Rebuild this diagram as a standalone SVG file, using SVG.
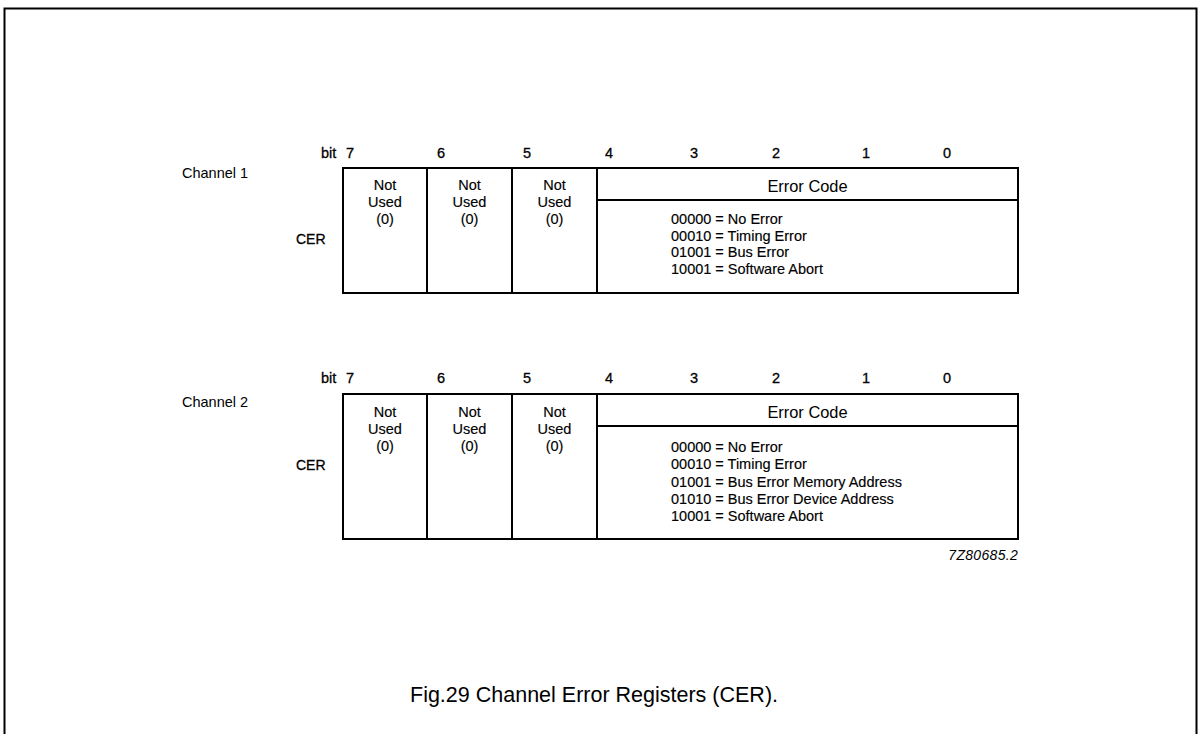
<svg xmlns="http://www.w3.org/2000/svg" width="1198" height="734" viewBox="0 0 1198 734">
<style>
text{font-family:"Liberation Sans",Arial,sans-serif;font-size:14.5px;fill:#000}
.c{text-anchor:middle}
.h{stroke:#000;stroke-width:0.3px}
.m{stroke:#000;stroke-width:0.15px}
.nu{font-size:15.5px}
.ec{font-size:16.4px}
.li{font-size:16.4px}
.b{font-size:14px}
.box{fill:none;stroke:#000;stroke-width:2}
.ln{stroke:#000;stroke-width:2}
.cap{font-size:21.5px}
.id{font-style:italic;text-anchor:end;font-size:14px;letter-spacing:0.3px}
</style>
<rect width="1198" height="734" fill="#fff"/>
<path d="M4.5,734 V8.5 H1196.5 V734" fill="none" stroke="#000" stroke-width="2"/>

<g id="channel1">
  <g class="b h">
    <text x="321" y="158">bit</text>
    <text x="346" y="158">7</text>
    <text x="437" y="158">6</text>
    <text x="523" y="158">5</text>
    <text x="605" y="158">4</text>
    <text x="690" y="158">3</text>
    <text x="772" y="158">2</text>
    <text x="862" y="158">1</text>
    <text x="943" y="158">0</text>
  </g>
  <text x="182" y="178">Channel 1</text>
  <text class="b h" x="296" y="244">CER</text>
  <rect class="box" x="343" y="168" width="675" height="125"/>
  <line class="ln" x1="427" y1="168" x2="427" y2="293"/>
  <line class="ln" x1="512" y1="168" x2="512" y2="293"/>
  <line class="ln" x1="597" y1="168" x2="597" y2="293"/>
  <line class="ln" x1="597" y1="200" x2="1018" y2="200"/>
  <g class="c nu m">
    <text x="385" y="190">Not</text><text x="385" y="207">Used</text><text x="385" y="224">(0)</text>
    <text x="469.5" y="190">Not</text><text x="469.5" y="207">Used</text><text x="469.5" y="224">(0)</text>
    <text x="554.5" y="190">Not</text><text x="554.5" y="207">Used</text><text x="554.5" y="224">(0)</text>
  </g>
  <text class="c ec" x="807.5" y="192">Error Code</text>
  <g class="li m">
    <text x="671" y="224">00000 = No Error</text>
    <text x="671" y="240.5">00010 = Timing Error</text>
    <text x="671" y="257">01001 = Bus Error</text>
    <text x="671" y="273.5">10001 = Software Abort</text>
  </g>
</g>

<g id="channel2">
  <g class="b h">
    <text x="321" y="383">bit</text>
    <text x="346" y="383">7</text>
    <text x="437" y="383">6</text>
    <text x="523" y="383">5</text>
    <text x="605" y="383">4</text>
    <text x="690" y="383">3</text>
    <text x="772" y="383">2</text>
    <text x="862" y="383">1</text>
    <text x="943" y="383">0</text>
  </g>
  <text x="182" y="407">Channel 2</text>
  <text class="b h" x="296" y="470">CER</text>
  <rect class="box" x="343" y="394" width="675" height="145"/>
  <line class="ln" x1="427" y1="394" x2="427" y2="539"/>
  <line class="ln" x1="512" y1="394" x2="512" y2="539"/>
  <line class="ln" x1="597" y1="394" x2="597" y2="539"/>
  <line class="ln" x1="597" y1="426" x2="1018" y2="426"/>
  <g class="c nu m">
    <text x="385" y="417">Not</text><text x="385" y="434">Used</text><text x="385" y="451">(0)</text>
    <text x="469.5" y="417">Not</text><text x="469.5" y="434">Used</text><text x="469.5" y="451">(0)</text>
    <text x="554.5" y="417">Not</text><text x="554.5" y="434">Used</text><text x="554.5" y="451">(0)</text>
  </g>
  <text class="c ec" x="807.5" y="418">Error Code</text>
  <g class="li m">
    <text x="671" y="452">00000 = No Error</text>
    <text x="671" y="469">00010 = Timing Error</text>
    <text x="671" y="486.5">01001 = Bus Error Memory Address</text>
    <text x="671" y="503.5">01010 = Bus Error Device Address</text>
    <text x="671" y="521">10001 = Software Abort</text>
  </g>
</g>

<text class="id" x="1018" y="560">7Z80685.2</text>
<text class="cap" x="410" y="702">Fig.29 Channel Error Registers (CER).</text>
</svg>
